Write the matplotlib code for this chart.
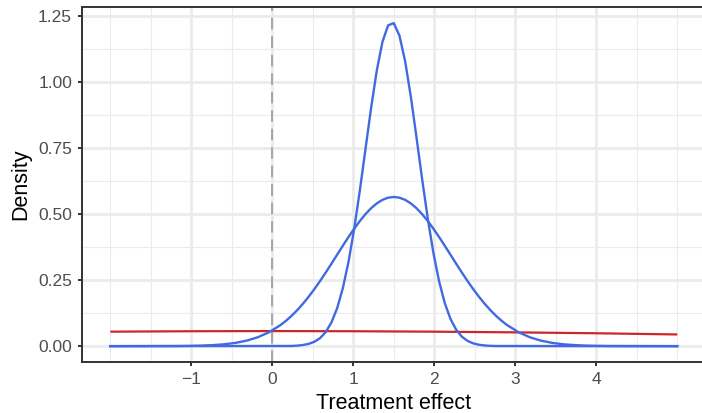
import matplotlib
matplotlib.use("Agg")
import matplotlib.pyplot as plt
from matplotlib.ticker import FixedLocator

plt.rcParams['font.family'] = ['Liberation Sans', 'DejaVu Sans']

# Narrow posterior-like curve (blue), sampled on a 0.07 grid
narrow_x = [-2.0, 0.24, 0.31, 0.38, 0.45, 0.52, 0.59, 0.66, 0.73, 0.80, 0.87, 0.94,
            1.01, 1.08, 1.15, 1.22, 1.29, 1.36, 1.43, 1.50, 1.57, 1.64, 1.71, 1.78,
            1.85, 1.92, 1.99, 2.06, 2.13, 2.20, 2.27, 2.34, 2.41, 2.48, 2.55, 2.62,
            2.69, 2.76, 5.0]
narrow_y = [0.0, 0.0007, 0.0020, 0.0043, 0.0087, 0.0166, 0.0305, 0.0535, 0.0895,
            0.1430, 0.2181, 0.3177, 0.4420, 0.5870, 0.7444, 0.9015, 1.0425, 1.1509,
            1.2134, 1.2214, 1.1739, 1.0774, 0.9441, 0.7900, 0.6312, 0.4816, 0.3508,
            0.2441, 0.1621, 0.1028, 0.0622, 0.0360, 0.0199, 0.0105, 0.0053, 0.0025,
            0.0012, 0.0005, 0.0]

# Wide curve (blue)
wide_x = [-2.0, -1.16, -1.02, -0.88, -0.74, -0.60, -0.46, -0.32, -0.18, -0.04, 0.10,
          0.17, 0.24, 0.31, 0.38, 0.45, 0.52, 0.59, 0.66, 0.73, 0.80, 0.87, 0.94,
          1.01, 1.08, 1.15, 1.22, 1.29, 1.36, 1.43, 1.50, 1.57, 1.64, 1.71, 1.78,
          1.85, 1.92, 1.99, 2.06, 2.13, 2.20, 2.27, 2.34, 2.41, 2.48, 2.55, 2.62,
          2.69, 2.76, 2.83, 2.90, 3.04, 3.18, 3.32, 3.46, 3.60, 3.74, 3.88, 4.02,
          4.16, 5.0]
wide_y = [0.0, 0.00048, 0.00099, 0.00196, 0.00374, 0.00686, 0.01211, 0.02055,
          0.03355, 0.05267, 0.07947,
          0.09621, 0.11533, 0.13691, 0.16093, 0.18733, 0.21594, 0.24649, 0.27861,
          0.31184, 0.34565, 0.37938, 0.41233, 0.44376, 0.47296, 0.49915, 0.52165,
          0.53985, 0.55325, 0.56143, 0.56419, 0.56143, 0.55325, 0.53985, 0.52165,
          0.49915, 0.47296, 0.44376, 0.41233, 0.37938, 0.34565, 0.31184, 0.27861,
          0.24649, 0.21594, 0.18733, 0.16093, 0.13691, 0.11533, 0.09621, 0.07947,
          0.05267, 0.03355, 0.02055, 0.01211, 0.00686, 0.00374, 0.00196, 0.00099,
          0.00048, 0.0]

# Flat prior curve (red)
prior_x = [-2, -1, 0, 1, 2, 3, 4, 5]
prior_y = [0.0547, 0.0564, 0.0570, 0.0564, 0.0547, 0.0521, 0.0487, 0.0442]

x_ticks = [-1, 0, 1, 2, 3, 4]
x_minor = [-2, -1.5, -0.5, 0.5, 1.5, 2.5, 3.5, 4.5, 5]
y_ticks = [0.00, 0.25, 0.50, 0.75, 1.00, 1.25]
y_minor = [0.125, 0.375, 0.625, 0.875, 1.125]
y_labels = ["0.00", "0.25", "0.50", "0.75", "1.00", "1.25"]

fig = plt.figure(figsize=(7.02, 4.13), dpi=100)
ax = fig.add_axes([82/702, 50.7/413, (705.6-82)/702, (406-50.7)/413])

blue = "#4169E1"
red = "#CD2626"

ax.plot(prior_x, prior_y, color=red, lw=1.6, zorder=3, solid_capstyle="butt")
ax.plot(wide_x, wide_y, color=blue, lw=1.7, zorder=4)
ax.plot(narrow_x, narrow_y, color=blue, lw=1.7, zorder=4)
ax.axvline(0, color="#A6A6A6", lw=1.4, dashes=(6, 3.5), zorder=2)

ax.set_xlim(-2.35, 5.35)
ax.set_ylim(-0.0611, 1.2825)

ax.xaxis.set_major_locator(FixedLocator(x_ticks))
ax.xaxis.set_minor_locator(FixedLocator(x_minor))
ax.yaxis.set_major_locator(FixedLocator(y_ticks))
ax.yaxis.set_minor_locator(FixedLocator(y_minor))
ax.set_xticklabels(["\u2212" + str(-t) if t < 0 else str(t) for t in x_ticks])
ax.set_yticklabels(y_labels)

ax.grid(which="major", color="#EBEBEB", lw=2.0, zorder=0)
ax.grid(which="minor", color="#EBEBEB", lw=0.8, zorder=0)
ax.set_axisbelow(True)

for s in ax.spines.values():
    s.set_color("#333333")
    s.set_linewidth(1.4)

ax.tick_params(which="major", length=3.2, width=1.4, color="#333333",
               labelcolor="#4D4D4D", labelsize=12.5, pad=4)
ax.tick_params(which="minor", length=0)

ax.set_xlabel("Treatment effect", fontsize=15.5, color="black", labelpad=4)
ax.set_ylabel("Density", fontsize=15.5, color="black", labelpad=5)

fig.savefig("out.png", dpi=100)
